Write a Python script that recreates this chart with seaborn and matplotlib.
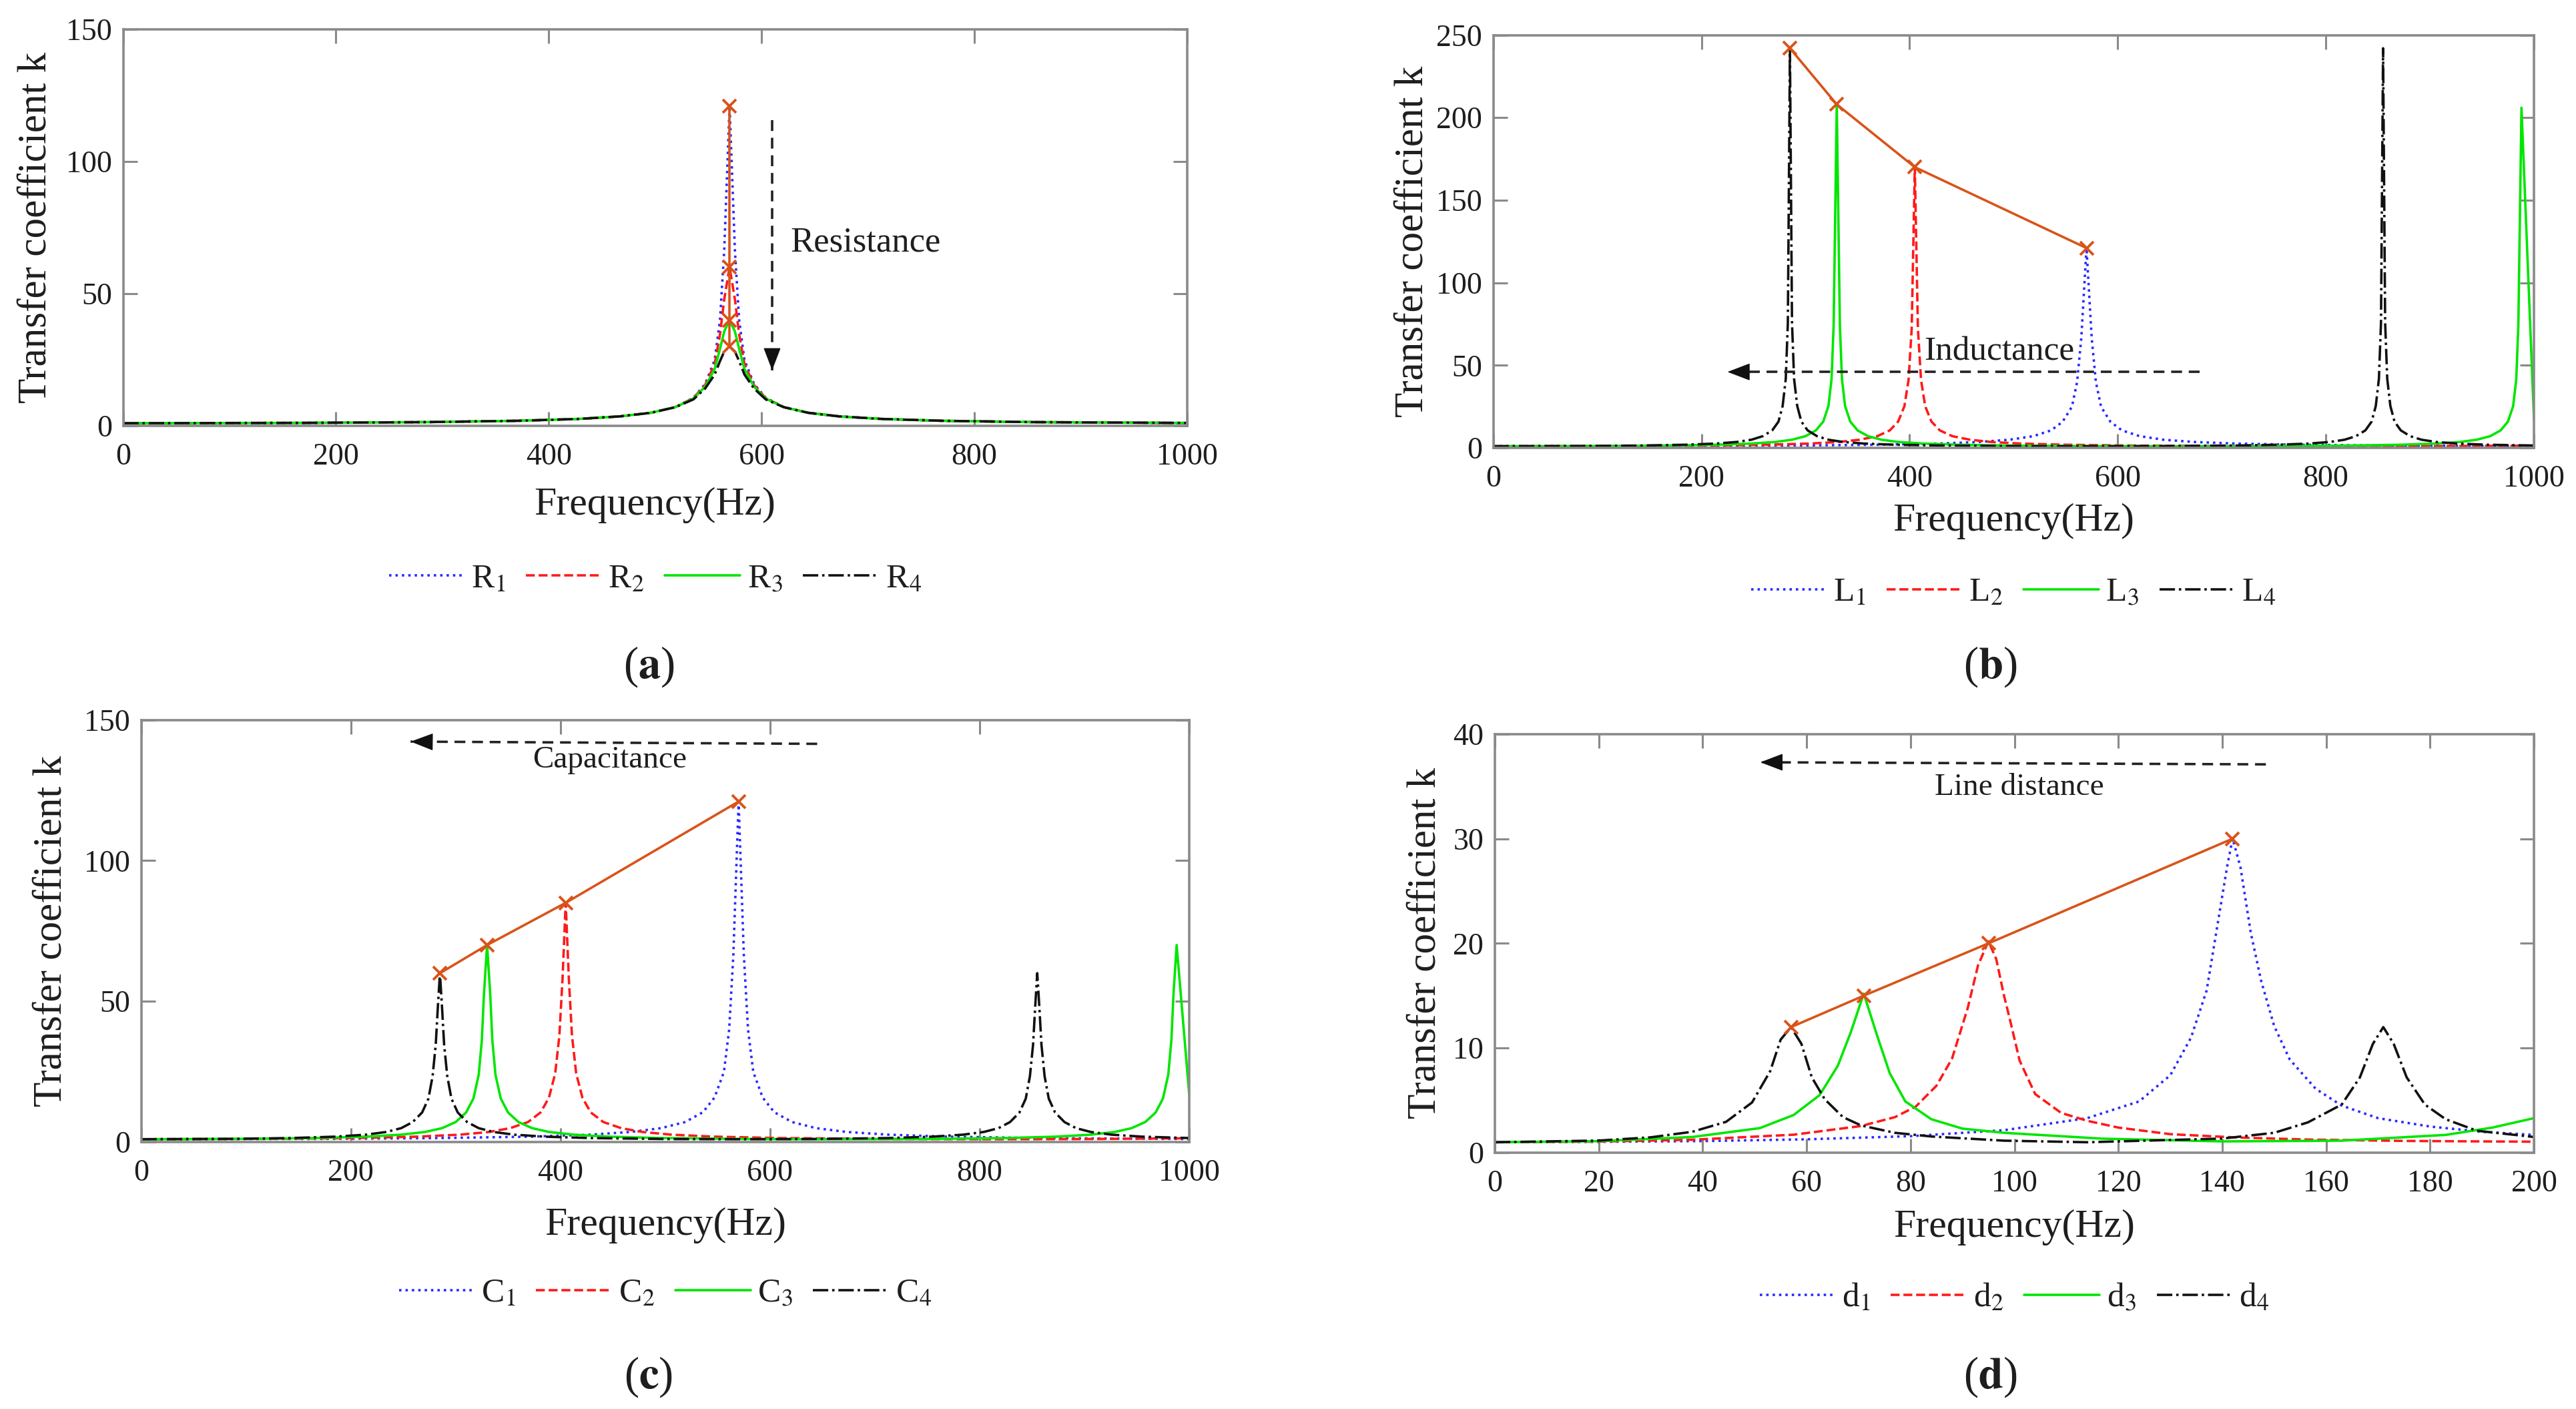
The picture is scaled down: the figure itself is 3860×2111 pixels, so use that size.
import matplotlib
matplotlib.use("Agg")
import matplotlib.pyplot as plt
import seaborn as sns

# ---------------- data ----------------
# panel (a): resistance, all resonances at ~570 Hz
a_freq = [0, 171, 285, 371, 428, 467, 496, 519, 536, 547, 556, 561, 565, 570,
          575, 579, 584, 593, 604, 621, 644, 673, 713, 770, 855, 1000]
a_R1 = [1.00, 1.12, 1.41, 1.91, 2.61, 3.58, 4.93, 7.10, 10.6, 15.8, 24.9, 40.0, 66.5, 121,
        66.5, 40.0, 24.9, 15.8, 10.6, 7.10, 4.93, 3.58, 2.61, 1.91, 1.41, 1.08]
a_R2 = [1.00, 1.12, 1.41, 1.91, 2.61, 3.58, 4.93, 7.09, 10.5, 15.4, 23.4, 34.6, 47.9, 60,
        47.9, 34.6, 23.4, 15.4, 10.5, 7.09, 4.93, 3.58, 2.61, 1.91, 1.41, 1.08]
a_R3 = [1.00, 1.12, 1.41, 1.91, 2.61, 3.58, 4.93, 7.07, 10.3, 14.8, 21.5, 29.1, 35.7, 40,
        35.7, 29.1, 21.5, 14.8, 10.3, 7.07, 4.93, 3.58, 2.61, 1.91, 1.41, 1.08]
a_R4 = [1.00, 1.12, 1.41, 1.91, 2.61, 3.58, 4.93, 7.04, 10.0, 14.1, 19.4, 24.5, 28.1, 30,
        28.1, 24.5, 19.4, 14.1, 10.0, 7.04, 4.93, 3.58, 2.61, 1.91, 1.41, 1.08]
a_peak_f = [570, 570, 570, 570]
a_peak_k = [121, 60, 40, 30]

# frequency grids shared by panels (b) and (c)
f_570 = a_freq
f_405 = [0, 122, 203, 263, 304, 332, 352, 369, 381, 389, 395, 399, 402, 405,
         408, 411, 415, 421, 429, 441, 458, 478, 506, 547, 608, 709, 810, 911, 1000]
f_330 = [0, 99, 165, 215, 248, 271, 287, 300, 310, 317, 322, 325, 327, 330,
         333, 335, 338, 343, 350, 360, 373, 389, 413, 446, 495, 578, 660, 743, 825,
         873, 906, 929, 945, 958, 968, 975, 980, 983, 985, 988, 1000]
f_285 = [0, 86, 143, 185, 214, 234, 248, 259, 268, 274, 278, 281, 283, 285,
         287, 289, 292, 296, 302, 311, 322, 336, 356, 385, 428, 499, 570, 641, 713,
         755, 784, 804, 818, 829, 838, 844, 848, 851, 853, 855,
         857, 859, 862, 866, 872, 881, 892, 906, 926, 955, 1000]

# panel (b): inductance
b_L1 = [1.00, 1.12, 1.41, 1.91, 2.61, 3.58, 4.93, 7.10, 10.6, 15.8, 24.9, 40.0, 66.5, 121,
        66.5, 40.0, 24.9, 15.8, 10.6, 7.10, 4.93, 3.58, 2.61, 1.91, 1.41, 1.08]
b_L2 = [1.00, 1.12, 1.41, 1.91, 2.61, 3.58, 4.93, 7.10, 10.6, 15.9, 25.2, 41.1, 72.0, 170,
        72.0, 41.1, 25.2, 15.9, 10.6, 7.10, 4.93, 3.58, 2.61, 1.91, 1.41, 1.08, 1.00, 1.08, 1.35]
b_L3 = [1.00, 1.12, 1.41, 1.91, 2.61, 3.58, 4.93, 7.10, 10.6, 15.9, 25.3, 41.6, 74.3, 208,
        74.3, 41.6, 25.3, 15.9, 10.6, 7.10, 4.93, 3.58, 2.61, 1.91, 1.41, 1.08, 1.00, 1.08, 1.41,
        1.91, 2.61, 3.58, 4.93, 7.10, 10.6, 15.9, 25.3, 41.6, 74.3, 206, 17.5]
b_L4 = [1.00, 1.12, 1.41, 1.91, 2.61, 3.58, 4.93, 7.10, 10.6, 15.9, 25.4, 41.8, 75.6, 242,
        75.6, 41.8, 25.4, 15.9, 10.6, 7.10, 4.93, 3.58, 2.61, 1.91, 1.41, 1.08, 1.00, 1.08, 1.41,
        1.91, 2.61, 3.58, 4.93, 7.10, 10.6, 15.9, 25.4, 41.8, 75.6, 242,
        75.6, 41.8, 25.4, 15.9, 10.6, 7.10, 4.93, 3.58, 2.61, 1.91, 1.41]
b_peak_f = [285, 330, 405, 570]
b_peak_k = [242, 208, 170, 121]

# panel (c): capacitance
c_C1 = [1.00, 1.12, 1.41, 1.91, 2.61, 3.58, 4.93, 7.10, 10.6, 15.8, 24.9, 40.0, 66.5, 121,
        66.5, 40.0, 24.9, 15.8, 10.6, 7.10, 4.93, 3.58, 2.61, 1.91, 1.41, 1.08]
c_C2 = [1.00, 1.12, 1.41, 1.91, 2.61, 3.58, 4.93, 7.09, 10.5, 15.7, 24.4, 37.9, 58.1, 85,
        58.1, 37.9, 24.4, 15.7, 10.5, 7.09, 4.93, 3.58, 2.61, 1.91, 1.41, 1.08, 1.00, 1.08, 1.35]
c_C3 = [1.00, 1.12, 1.41, 1.91, 2.61, 3.58, 4.93, 7.09, 10.5, 15.5, 23.9, 36.2, 52.5, 70,
        52.5, 36.2, 23.9, 15.5, 10.5, 7.09, 4.93, 3.58, 2.61, 1.91, 1.41, 1.08, 1.00, 1.08, 1.41,
        1.91, 2.61, 3.58, 4.93, 7.09, 10.5, 15.5, 23.9, 36.2, 52.5, 70, 17.0]
c_C4 = [1.00, 1.12, 1.41, 1.91, 2.61, 3.58, 4.93, 7.09, 10.5, 15.4, 23.4, 34.6, 47.9, 60,
        47.9, 34.6, 23.4, 15.4, 10.5, 7.09, 4.93, 3.58, 2.61, 1.91, 1.41, 1.08, 1.00, 1.08, 1.41,
        1.91, 2.61, 3.58, 4.93, 7.09, 10.5, 15.4, 23.4, 34.6, 47.9, 60,
        47.9, 34.6, 23.4, 15.4, 10.5, 7.09, 4.93, 3.58, 2.61, 1.91, 1.41]
c_peak_f = [285, 330, 405, 570]
c_peak_k = [60, 70, 85, 121]

# panel (d): line distance
d_d1_f = [0, 20, 40, 60, 80, 98, 114, 124, 130, 134, 137, 139, 141, 142, 143.5, 145.5, 147.5,
          150, 153, 158, 163, 170, 180, 190, 200]
d_d1 = [1.00, 1.04, 1.11, 1.28, 1.58, 2.15, 3.3, 4.9, 7.4, 11.0, 15.5, 21.5, 27.5, 30.0, 27.3,
        21.0, 16.4, 12.1, 8.9, 6.1, 4.5, 3.3, 2.5, 2.0, 1.7]
d_d2_f = [0, 20, 38, 57.5, 70.5, 77, 81, 85, 88, 91, 93, 95, 96.5, 98, 99, 101, 104, 109, 114,
          120, 130, 143, 157, 176, 200]
d_d2 = [1.00, 1.06, 1.24, 1.72, 2.55, 3.4, 4.4, 6.4, 9.0, 13.8, 17.9, 20.2, 18.5, 15.0, 13.0,
        8.8, 5.6, 3.8, 3.05, 2.4, 1.77, 1.45, 1.25, 1.12, 1.05]
d_d3_f = [0, 20, 38, 51, 57.5, 62.5, 66, 68.5, 71, 73.5, 76, 79, 84, 90, 98, 117, 140, 163,
          183, 192, 200]
d_d3 = [1.00, 1.10, 1.50, 2.35, 3.6, 5.5, 8.3, 11.5, 15.2, 11.3, 7.6, 4.9, 3.2, 2.3, 1.9, 1.34,
        1.08, 1.15, 1.7, 2.4, 3.3]
d_d4_f = [0, 20, 30, 38, 44.5, 49.5, 53, 55, 57, 59, 61, 63.5, 67, 70.5, 77, 84, 98, 114, 140,
          150, 156.5, 163, 166.5, 169, 171, 173, 175.5, 179, 183, 189, 200]
d_d4 = [1.00, 1.16, 1.47, 2.0, 2.95, 4.8, 7.8, 10.8, 12.0, 10.4, 7.2, 5.1, 3.4, 2.6, 1.9, 1.55,
        1.15, 1.0, 1.35, 1.9, 2.9, 4.6, 7.2, 10.4, 12.0, 10.4, 7.2, 4.6, 3.2, 2.1, 1.5]
d_peak_f = [57, 71, 95, 142]
d_peak_k = [12, 15, 20, 30]

a_labels = ["R$_1$", "R$_2$", "R$_3$", "R$_4$"]
b_labels = ["L$_1$", "L$_2$", "L$_3$", "L$_4$"]
c_labels = ["C$_1$", "C$_2$", "C$_3$", "C$_4$"]
d_labels = ["d$_1$", "d$_2$", "d$_3$", "d$_4$"]

x_ticks_1000 = [0, 200, 400, 600, 800, 1000]
x_ticks_200 = [0, 20, 40, 60, 80, 100, 120, 140, 160, 180, 200]

# ---------------- style ----------------
sns.set_style("ticks")
plt.rcParams["font.family"] = ["Liberation Serif", "DejaVu Serif"]
plt.rcParams["mathtext.fontset"] = "stix"

EDGE = "#8a8a8a"
TXT = "#1e1e1e"
ORANGE = "#D95319"
STYLES = [("#2a2aff", ":"), ("#ff1a1a", "--"), ("#00e600", "-"), ("#111111", "-.")]
LW = 2.6

fig = plt.figure(figsize=(38.6, 21.11), dpi=100)


def panel(rect, series, labels, peak_f, peak_k, xlim, ylim, xticks, yticks,
          ylab_x, xlab_y, leg_y):
    ax = fig.add_axes(rect)
    for (f, k), lab, (col, ls) in zip(series, labels, STYLES):
        sns.lineplot(x=f, y=k, ax=ax, color=col, linestyle=ls, lw=LW, label=lab,
                     estimator=None, sort=False)
    sns.lineplot(x=peak_f, y=peak_k, ax=ax, color=ORANGE, lw=LW, marker="x",
                 markersize=15, markeredgewidth=2.8, markeredgecolor=ORANGE,
                 estimator=None, sort=False, label="_nolegend_")
    ax.set_xlim(*xlim)
    ax.set_ylim(*ylim)
    ax.set_xticks(xticks)
    ax.set_yticks(yticks)
    ax.tick_params(direction="in", top=True, right=True, length=15, width=2.2,
                   colors=EDGE, labelcolor=TXT, labelsize=33)
    ax.tick_params(axis="x", pad=18)
    ax.tick_params(axis="y", pad=12)
    for sp in ax.spines.values():
        sp.set_color(EDGE)
        sp.set_linewidth(2.6)
        sp.set_visible(True)
    ax.set_xlabel("Frequency(Hz)", fontsize=43, color=TXT, va="center")
    ax.xaxis.set_label_coords(0.5, xlab_y)
    ax.set_ylabel("Transfer coefficient k", fontsize=44, color=TXT, va="center")
    ax.yaxis.set_label_coords(ylab_x, 0.5)
    h, l = ax.get_legend_handles_labels()
    ax.legend(h, l, loc="center", bbox_to_anchor=(0.5, leg_y), ncol=4, frameon=False,
              fontsize=37, handlelength=2.2, handletextpad=0.2, columnspacing=0.6,
              labelcolor=TXT)
    return ax


def dashed_arrow(ax, start, end, head_back):
    ax.plot([start[0], end[0]], [start[1], end[1]], color="#222222", lw=2.6,
            linestyle=(0, (4.5, 2.8)), zorder=5)
    ax.annotate("", xy=end, xytext=head_back,
                arrowprops=dict(arrowstyle="-|>,head_length=1.1,head_width=0.42",
                                color="#111111", lw=1.0, shrinkA=0, shrinkB=0,
                                mutation_scale=20), zorder=6)


ax_a = panel([0.04782, 0.69777, 0.41298, 0.28152],
             [(a_freq, a_R1), (a_freq, a_R2), (a_freq, a_R3), (a_freq, a_R4)],
             a_labels, a_peak_f, a_peak_k, (0, 1000), (0, 150), x_ticks_1000,
             [0, 50, 100, 150], -0.0819, -0.200, -0.387)
dashed_arrow(ax_a, (610, 115.5), (610, 21), (610, 29))
ax_a.text(627, 69.3, "Resistance", fontsize=38, color=TXT, ha="left", va="center")

ax_b = panel([0.57972, 0.68214, 0.40396, 0.29299],
             [(f_570, b_L1), (f_405, b_L2), (f_330, b_L3), (f_285, b_L4)],
             b_labels, b_peak_f, b_peak_k, (0, 1000), (0, 250), x_ticks_1000,
             [0, 50, 100, 150, 200, 250], -0.0774, -0.178, -0.351)
dashed_arrow(ax_b, (679, 46), (225, 46), (245, 46))
ax_b.text(414, 58, "Inductance", fontsize=37, color=TXT, ha="left", va="center")

ax_c = panel([0.05484, 0.18948, 0.40681, 0.29957],
             [(f_570, c_C1), (f_405, c_C2), (f_330, c_C3), (f_285, c_C4)],
             c_labels, c_peak_f, c_peak_k, (0, 1000), (0, 150), x_ticks_1000,
             [0, 50, 100, 150], -0.0858, -0.1977, -0.359)
dashed_arrow(ax_c, (645, 141.5), (257, 142.3), (277, 142.2))
ax_c.text(447, 135.8, "Capacitance", fontsize=34, color=TXT, ha="center", va="center")

ax_d = panel([0.58031, 0.18190, 0.40337, 0.29716],
             [(d_d1_f, d_d1), (d_d2_f, d_d2), (d_d3_f, d_d3), (d_d4_f, d_d4)],
             d_labels, d_peak_f, d_peak_k, (0, 200), (0, 40), x_ticks_200,
             [0, 10, 20, 30, 40], -0.0668, -0.1785, -0.3475)
dashed_arrow(ax_d, (148.4, 37.1), (51.1, 37.3), (55.1, 37.3))
ax_d.text(101, 34.9, "Line distance", fontsize=34, color=TXT, ha="center", va="center")

for x, y, s in [(0.2518, 0.5268, "a"), (0.7725, 0.5268, "b"),
                (0.2518, 0.0227, "c"), (0.7725, 0.0227, "d")]:
    fig.text(x, y, "($\\mathbf{%s}$)" % s, fontsize=48, color=TXT, ha="center", va="center")

fig.savefig("out.png", dpi=100, facecolor="white")
